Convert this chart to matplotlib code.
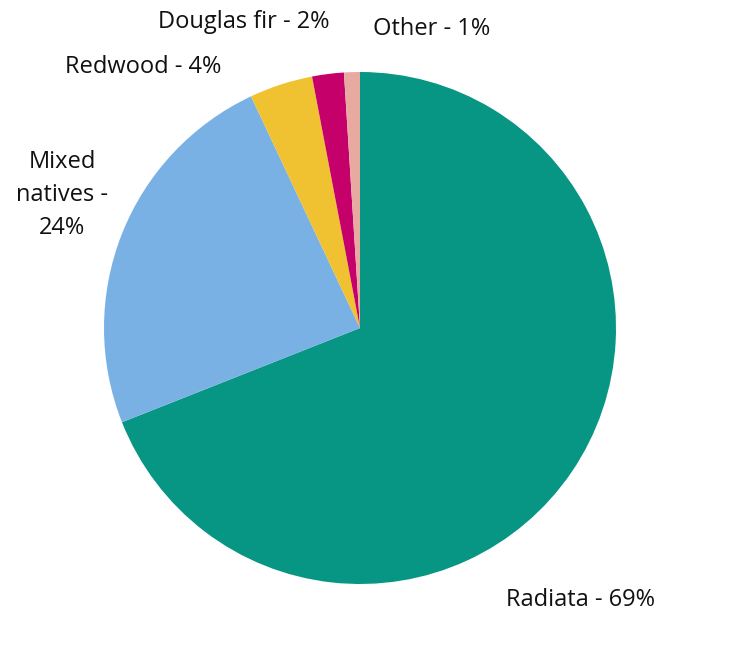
import matplotlib

matplotlib.use("Agg")
import matplotlib.pyplot as plt

plt.rcParams["font.family"] = ["Open Sans", "DejaVu Sans"]

species = ["Radiata", "Mixed natives", "Redwood", "Douglas fir", "Other"]
shares = [69, 24, 4, 2, 1]
label_text = ["Radiata - 69%", "Mixed\nnatives -\n24%", "Redwood - 4%",
              "Douglas fir - 2%", "Other - 1%"]

colors = ["#079684", "#7ab1e5", "#f0c130", "#c6006a", "#e8aaa0"]
# label centres in pie-radius units
label_pos = [(0.86, -1.063), (-1.164, 0.52), (-0.848, 1.02),
             (-0.453, 1.195), (0.281, 1.168)]

fig = plt.figure(figsize=(7.38, 6.56), dpi=100)
ax = fig.add_axes([104 / 738, 72 / 656, 512 / 738, 512 / 656])
ax.pie(shares, colors=colors, startangle=90, counterclock=False,
       wedgeprops={"linewidth": 0})
ax.set_xlim(-1, 1)
ax.set_ylim(-1, 1)
ax.set_aspect("equal")
ax.axis("off")

for text, (x, y) in zip(label_text, label_pos):
    ax.text(x, y, text, ha="center", va="center", fontsize=17,
            color="#111111", linespacing=1.5)

fig.savefig("out.png", dpi=100)
